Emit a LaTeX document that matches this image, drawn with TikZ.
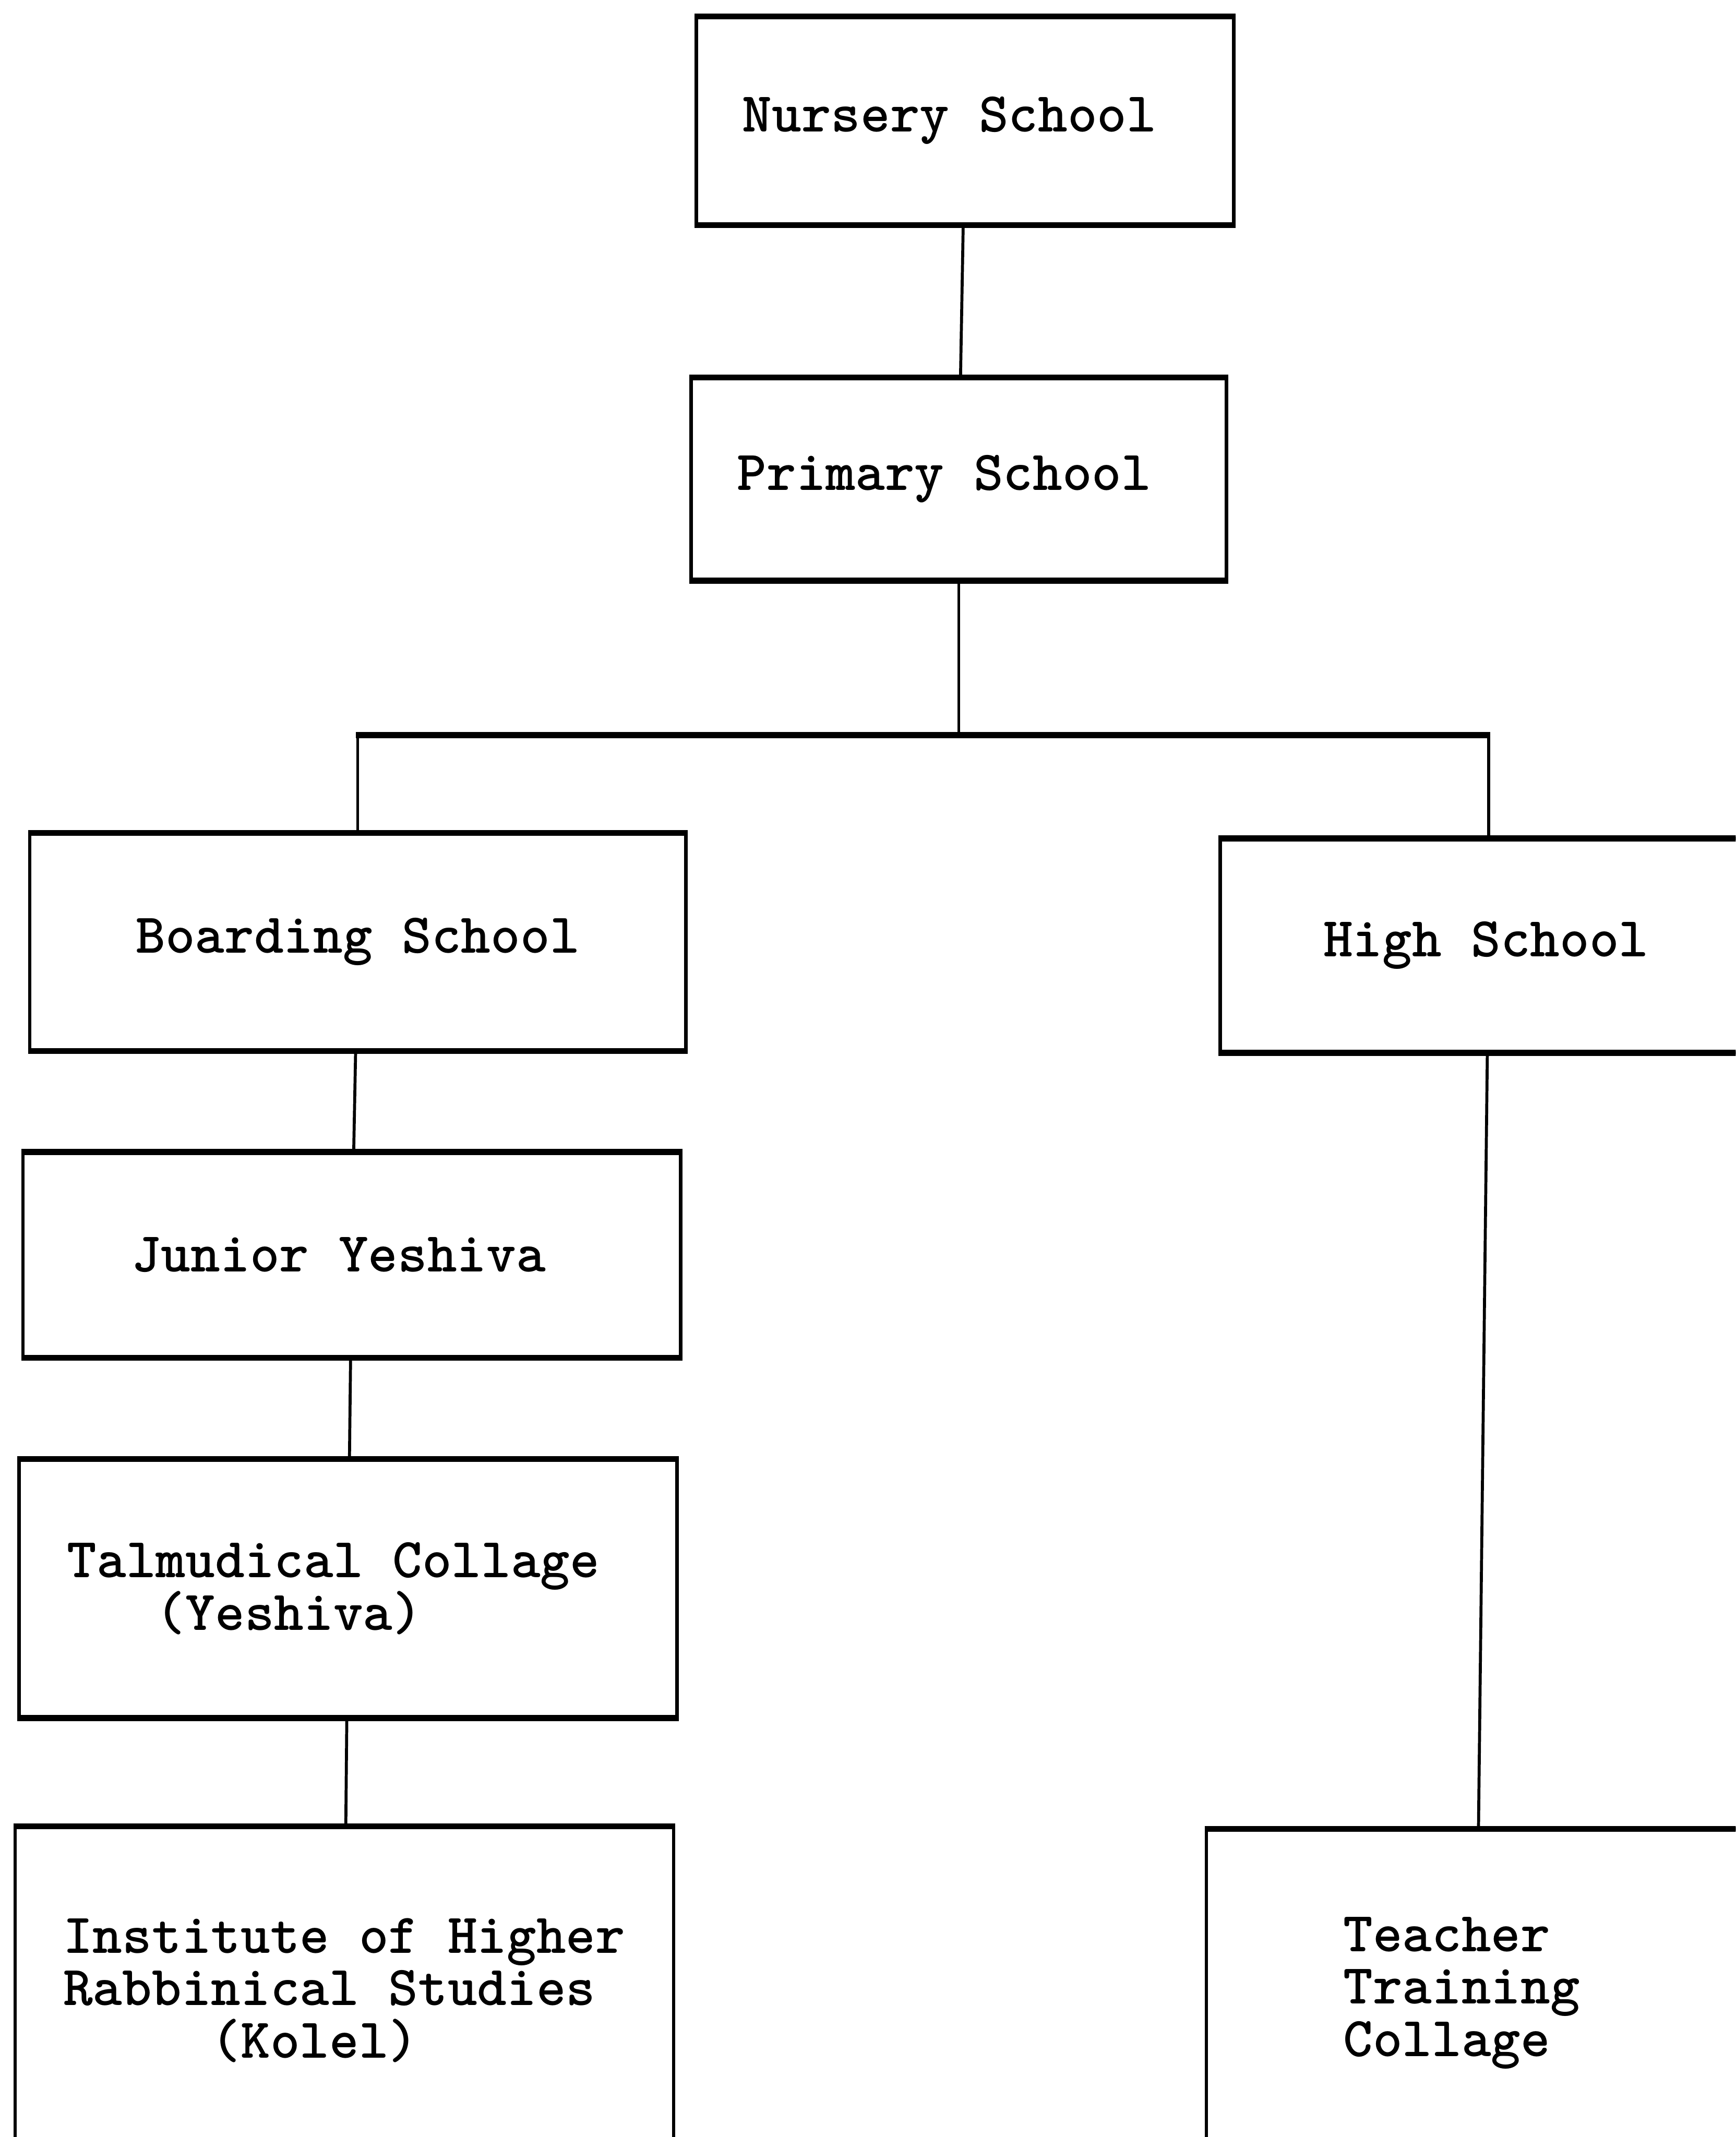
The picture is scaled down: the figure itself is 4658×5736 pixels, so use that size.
\documentclass[tikz,border=0pt]{standalone}
\usetikzlibrary{positioning}

\newcommand{\nudge}[1]{\hspace*{#1}}

\tikzset{
  rule/.style={line width=0.16cm, shorten <=-0.045cm, shorten >=-0.045cm},
  link/.style={line width=0.08cm},
  stage/.style={draw, line width=0.09cm, outer sep=0pt, inner sep=0pt, align=left,
    font=\ttfamily\bfseries\fontsize{43}{40}\selectfont,
    append after command={
      (\tikzlastnode.north west) edge[rule] (\tikzlastnode.north east)
      (\tikzlastnode.south west) edge[rule] (\tikzlastnode.south east)}},
}

\begin{document}
\begin{tikzpicture}[x=0.01cm, y=-0.01cm]
    \path[use as bounding box, clip] (0,0) rectangle (4658,5736);

    \node[stage, minimum width=14.41cm, minimum height=5.6cm] (nursery) at (2590,324) {Nursery School\nudge{0.84cm}};
    \node[stage, minimum width=14.36cm, minimum height=5.45cm, below = 4.09cm of nursery, xshift=-0.17cm] (primary) {Primary School\nudge{0.78cm}};

    % left branch
    \node[stage, minimum width=17.6cm, minimum height=5.85cm] (boarding) at (960,2528) {Boarding School};
    \node[stage, minimum width=17.64cm, minimum height=5.52cm, below = 2.71cm of boarding, xshift=-0.16cm] (junior) {Junior Yeshiva\nudge{0.7cm}};
    \node[stage, minimum width=17.65cm, minimum height=6.95cm, below = 2.72cm of junior, xshift=-0.1cm] (talmud) {Talmudical Collage\nudge{0.78cm}\\~~~(Yeshiva)};
    \node[stage, minimum width=17.66cm, minimum height=8.8cm, below = 2.9cm of talmud, xshift=-0.1cm] (kolel) {Institute of Higher\\Rabbinical Studies\\~~~~~(Kolel)};

    % right branch
    \node[stage, minimum width=14.4cm, minimum height=5.75cm] (high) at (3995,2538) {High School\nudge{0.14cm}};
    \node[stage, minimum width=14.5cm, minimum height=8.8cm, below = 20.82cm of high, xshift=-0.32cm] (teacher) {Teacher\nudge{1.6cm}\\Training\nudge{1.6cm}\\Collage\nudge{1.6cm}};

    \coordinate[below = 4.14cm of primary.south] (split);
    \coordinate (barL) at (boarding.north |- split);
    \coordinate (barR) at (high.north |- split);

    \draw[link] (nursery) -- (primary);
    \draw[link] (primary) -- (split);
    \draw[rule] (barL) -- (barR);
    \draw[link] (barL) -- (boarding);
    \draw[link] (barR) -- (high);
    \draw[link] (boarding) -- (junior);
    \draw[link] (junior) -- (talmud);
    \draw[link] (talmud) -- (kolel);
    \draw[link] (high) -- (teacher);
\end{tikzpicture}
\end{document}
